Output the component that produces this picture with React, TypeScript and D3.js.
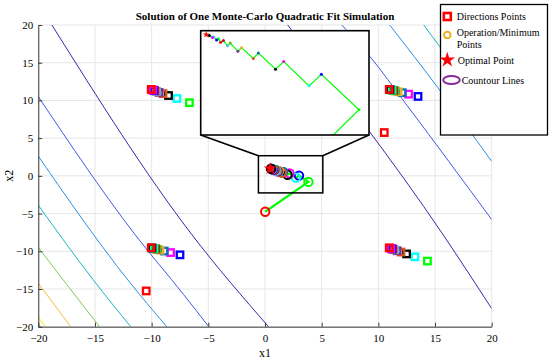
import * as d3 from 'd3';
import { useEffect, useRef } from 'react';

const chartTitle = 'Solution of One Monte-Carlo Quadratic Fit Simulation';
const xTicks = [-20, -15, -10, -5, 0, 5, 10, 15, 20];
const yTicks = [-20, -15, -10, -5, 0, 5, 10, 15, 20];

// operation / minimum points, from the start point to the last iterate
const pathX = [0.02, 3.83, 3.0, 2.73, 2.17, 1.99, 1.61, 1.5, 1.24, 1.16, 0.99, 0.93, 0.84, 0.78, 0.73, 0.69, 0.63, 0.6, 0.53];
const pathY = [-4.76, -0.8, 0.03, -0.24, 0.33, 0.15, 0.53, 0.4, 0.65, 0.57, 0.76, 0.7, 0.82, 0.78, 0.86, 0.83, 0.9, 0.89, 0.94];
const optimalPoint = [0.46, 0.96];

// direction points, two per iteration (A and B)
const dirAX = [10.52, -6.67, 13.5, -7.77, 12.67, -8.51, 12.11, -9.0, 11.74, -9.34, 11.49, -9.57, 11.34, -9.72, 11.23, -9.81, 11.13, -9.9, 11.03];
const dirAY = [5.74, 9.7, 10.53, 10.26, 10.83, 10.65, 11.03, 10.9, 11.15, 11.07, 11.26, 11.2, 11.32, 11.28, 11.36, 11.33, 11.4, 11.39, 11.44];
const dirBX = [-10.48, 14.33, -7.5, 13.23, -8.33, 12.49, -8.89, 12.0, -9.26, 11.66, -9.51, 11.43, -9.66, 11.28, -9.77, 11.19, -9.87, 11.1, -9.97];
const dirBY = [-15.26, -11.3, -10.47, -10.74, -10.17, -10.35, -9.97, -10.1, -9.85, -9.93, -9.74, -9.8, -9.68, -9.72, -9.64, -9.67, -9.6, -9.61, -9.56];
// final direction points around the optimum
const finalDirX = [-10.04, 10.96, -10.04, 10.96];
const finalDirY = [11.46, 11.46, -9.54, -9.54];

// contour lines: level index and points (x increasing)
const contourLevel = [0, 1, 2, 3, 4, 5, 6, 0, 1, 2, 3];
const contourX = [
  [-18.8, -6.46, 0.31],
  [-20, -11.47, -7.2, -4.96],
  [-20, -12.1, -8.67],
  [-20, -15.15, -11.85],
  [-20, -17.8, -14.6],
  [-20, -17.14],
  [-20, -19.41],
  [2.0, 15.7, 20],
  [6.78, 9.27, 12.4, 20],
  [11.0, 15.28, 20],
  [14.0, 20],
];
const contourY = [
  [20, -7.78, -20],
  [10.5, -7.78, -15.7, -20],
  [2.6, -13.8, -20],
  [-3.9, -13.8, -20],
  [-9.5, -13.8, -20],
  [-14.25, -20],
  [-18.7, -20],
  [20, -7.78, -17.6],
  [20, 15.8, 9.6, -5.8],
  [20, 11.64, 1.92],
  [20, 7.9],
];

// zoom window: source region in the main axes, and the data range shown in the inset
const sourceX = [-0.58, 5.1];
const sourceY = [-2.26, 2.67];
const insetX = [0.34, 4.05];
const insetY = [-1.39, 1.05];

const legendLabels = ['Directions Points', 'Operation/Minimum', 'Points', 'Optimal Point', 'Countour Lines'];

export default function App() {
  const ref = useRef<HTMLDivElement>(null);

  useEffect(() => {
    document.body.style.margin = '0';
    const width = 550;
    const height = 360;
    const plot = { left: 38.3, right: 491.7, top: 25, bottom: 326.7 };
    const inset = { left: 200.7, right: 369, top: 30.7, bottom: 135 };
    const font = "'Liberation Serif', 'Times New Roman', 'DejaVu Serif', serif";
    const levelColors = ['#3e26a8', '#4358e8', '#2c8fe4', '#16b4c2', '#7ec95a', '#f5b83e', '#f4ea1c'];
    const pointColors = ['#ff0000', '#00ff00', '#0000ff', '#00ffff', '#ff00ff', '#000000',
      '#0072bd', '#d95319', '#edb120', '#7e2f8e', '#77ac30', '#4dbeee', '#a2142f'];
    const axisColor = '#262626';

    const svg = d3.create('svg')
      .attr('width', width)
      .attr('height', height)
      .style('display', 'block')
      .style('background', '#fff')
      .style('font-family', font);

    ref.current!.innerHTML = '';
    ref.current!.append(svg.node()!);

    const x = d3.scaleLinear().domain([-20, 20]).range([plot.left, plot.right]);
    const y = d3.scaleLinear().domain([-20, 20]).range([plot.bottom, plot.top]);

    const defs = svg.append('defs');
    defs.append('clipPath').attr('id', 'plotClip')
      .append('rect')
      .attr('x', plot.left).attr('y', plot.top)
      .attr('width', plot.right - plot.left).attr('height', plot.bottom - plot.top);
    defs.append('clipPath').attr('id', 'insetClip')
      .append('rect')
      .attr('x', inset.left).attr('y', inset.top)
      .attr('width', inset.right - inset.left).attr('height', inset.bottom - inset.top);

    // grid
    const grid = svg.append('g').attr('stroke', '#e6e6e6').attr('stroke-width', 1);
    grid.selectAll('line.gx').data(xTicks).join('line')
      .attr('x1', d => x(d)).attr('x2', d => x(d))
      .attr('y1', plot.top).attr('y2', plot.bottom);
    grid.selectAll('line.gy').data(yTicks).join('line')
      .attr('y1', d => y(d)).attr('y2', d => y(d))
      .attr('x1', plot.left).attr('x2', plot.right);

    // contours
    const contourPath = d3.line<[number, number]>()
      .x(d => x(d[0]))
      .y(d => y(d[1]))
      .curve(d3.curveMonotoneX);
    const contours = svg.append('g').attr('clip-path', 'url(#plotClip)');
    contourX.forEach((xs, k) => {
      const pts = xs.map((v, i) => [v, contourY[k][i]] as [number, number]);
      contours.append('path')
        .attr('d', contourPath(pts))
        .attr('fill', 'none')
        .attr('stroke', levelColors[contourLevel[k]])
        .attr('stroke-width', 1);
    });

    const marks = svg.append('g').attr('clip-path', 'url(#plotClip)');

    // direction points
    const sq = 6.5;
    const squares: { x: number; y: number; c: string }[] = [];
    dirAX.forEach((_, i) => {
      const c = pointColors[i % pointColors.length];
      squares.push({ x: dirAX[i], y: dirAY[i], c });
      squares.push({ x: dirBX[i], y: dirBY[i], c });
    });
    finalDirX.forEach((v, i) => squares.push({ x: v, y: finalDirY[i], c: '#ff0000' }));
    marks.selectAll('rect.dir').data(squares).join('rect')
      .attr('class', 'dir')
      .attr('x', d => x(d.x) - sq / 2)
      .attr('y', d => y(d.y) - sq / 2)
      .attr('width', sq).attr('height', sq)
      .attr('fill', 'none')
      .attr('stroke', d => d.c)
      .attr('stroke-width', 2.3);

    // path of iterates
    const pathPts = pathX.map((v, i) => [v, pathY[i]] as [number, number]).concat([[optimalPoint[0], optimalPoint[1]]]);
    marks.append('path')
      .attr('d', d3.line<[number, number]>().x(d => x(d[0])).y(d => y(d[1]))(pathPts))
      .attr('fill', 'none')
      .attr('stroke', '#00ff00')
      .attr('stroke-width', 2.2);

    marks.selectAll('circle.op').data(pathX).join('circle')
      .attr('class', 'op')
      .attr('cx', d => x(d))
      .attr('cy', (_, i) => y(pathY[i]))
      .attr('r', 4.2)
      .attr('fill', 'none')
      .attr('stroke', (_, i) => pointColors[i % pointColors.length])
      .attr('stroke-width', 2);

    const star = d3.symbol().type(d3.symbolStar);
    marks.append('path')
      .attr('d', star.size(50)())
      .attr('transform', `translate(${x(optimalPoint[0])},${y(optimalPoint[1])})`)
      .attr('fill', '#ff0000');

    // axes
    const xAxis = d3.axisBottom(x).tickValues(xTicks).tickSizeInner(-4).tickSizeOuter(0).tickPadding(8);
    const yAxis = d3.axisLeft(y).tickValues(yTicks).tickSizeInner(-4).tickSizeOuter(0).tickPadding(5);
    const gx = svg.append('g').attr('transform', `translate(0,${plot.bottom})`).call(xAxis);
    const gy = svg.append('g').attr('transform', `translate(${plot.left},0)`).call(yAxis);
    [gx, gy].forEach(g => {
      g.attr('font-family', null);
      g.select('.domain').attr('stroke', axisColor).attr('stroke-width', 0.9);
      g.selectAll('.tick line').attr('stroke', axisColor).attr('stroke-width', 0.9);
      g.selectAll('.tick text')
        .attr('fill', '#000')
        .style('font-family', font)
        .style('font-size', '11px');
    });

    svg.append('text')
      .attr('x', (plot.left + plot.right) / 2)
      .attr('y', 357)
      .attr('text-anchor', 'middle')
      .style('font-family', font)
      .style('font-size', '12px')
      .text('x1');
    svg.append('text')
      .attr('transform', `translate(13,${(plot.top + plot.bottom) / 2}) rotate(-90)`)
      .attr('text-anchor', 'middle')
      .style('font-family', font)
      .style('font-size', '12px')
      .text('x2');

    svg.append('text')
      .attr('x', 265)
      .attr('y', 19.5)
      .attr('text-anchor', 'middle')
      .style('font-family', font)
      .style('font-weight', 'bold')
      .style('font-size', '11px')
      .text(chartTitle);

    // zoom source rectangle and connectors
    svg.append('rect')
      .attr('x', x(sourceX[0])).attr('y', y(sourceY[1]))
      .attr('width', x(sourceX[1]) - x(sourceX[0]))
      .attr('height', y(sourceY[0]) - y(sourceY[1]))
      .attr('fill', 'none')
      .attr('stroke', '#000')
      .attr('stroke-width', 1.5);
    svg.append('line')
      .attr('x1', inset.left).attr('y1', inset.bottom)
      .attr('x2', x(sourceX[0])).attr('y2', y(sourceY[1]))
      .attr('stroke', '#000').attr('stroke-width', 1.5);
    svg.append('line')
      .attr('x1', inset.right).attr('y1', inset.bottom)
      .attr('x2', x(sourceX[1])).attr('y2', y(sourceY[1]))
      .attr('stroke', '#000').attr('stroke-width', 1.5);

    // inset
    const ix = d3.scaleLinear().domain(insetX).range([inset.left, inset.right]);
    const iy = d3.scaleLinear().domain(insetY).range([inset.bottom, inset.top]);
    svg.append('rect')
      .attr('x', inset.left).attr('y', inset.top)
      .attr('width', inset.right - inset.left).attr('height', inset.bottom - inset.top)
      .attr('fill', '#fff');
    const ig = svg.append('g').attr('clip-path', 'url(#insetClip)');
    ig.append('path')
      .attr('d', d3.line<[number, number]>().x(d => ix(d[0])).y(d => iy(d[1]))(pathPts))
      .attr('fill', 'none')
      .attr('stroke', '#00ff00')
      .attr('stroke-width', 1.2);
    ig.selectAll('circle').data(pathX).join('circle')
      .attr('cx', d => ix(d))
      .attr('cy', (_, i) => iy(pathY[i]))
      .attr('r', 1.5)
      .attr('fill', (_, i) => pointColors[i % pointColors.length]);
    ig.append('path')
      .attr('d', star.size(14)())
      .attr('transform', `translate(${ix(optimalPoint[0])},${iy(optimalPoint[1])})`)
      .attr('fill', '#ff0000');
    svg.append('rect')
      .attr('x', inset.left).attr('y', inset.top)
      .attr('width', inset.right - inset.left).attr('height', inset.bottom - inset.top)
      .attr('fill', 'none')
      .attr('stroke', '#000')
      .attr('stroke-width', 1.6);

    // legend
    const lg = svg.append('g');
    lg.append('rect')
      .attr('x', 440.5).attr('y', 4.5)
      .attr('width', 107).attr('height', 130.5)
      .attr('fill', '#fff')
      .attr('stroke', '#000')
      .attr('stroke-width', 1.3);
    lg.append('rect')
      .attr('x', 447.3 - 3.5).attr('y', 16.5 - 3.5)
      .attr('width', 7).attr('height', 7)
      .attr('fill', 'none').attr('stroke', '#ff0000').attr('stroke-width', 2.6);
    lg.append('circle')
      .attr('cx', 447.3).attr('cy', 35).attr('r', 3.3)
      .attr('fill', 'none').attr('stroke', '#edb120').attr('stroke-width', 2);
    lg.append('path')
      .attr('d', star.size(75)())
      .attr('transform', 'translate(447.3,60)')
      .attr('fill', '#ff0000');
    lg.append('ellipse')
      .attr('cx', 451.5).attr('cy', 80).attr('rx', 8.3).attr('ry', 4)
      .attr('fill', 'none').attr('stroke', '#8b2aa0').attr('stroke-width', 2);
    const legendPos = [[456.7, 16.7], [456.7, 32.3], [456.7, 44], [457.7, 60.7], [461.7, 80]];
    lg.selectAll('text').data(legendLabels).join('text')
      .attr('x', (_, i) => legendPos[i][0])
      .attr('y', (_, i) => legendPos[i][1])
      .attr('dy', '0.35em')
      .style('font-family', font)
      .style('font-size', '10px')
      .attr('fill', '#000')
      .text(d => d);
  }, []);

  return <div ref={ref}></div>;
}
